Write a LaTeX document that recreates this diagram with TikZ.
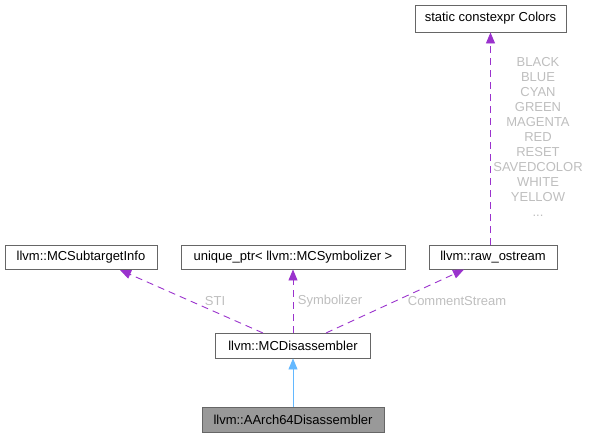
\documentclass[tikz,border=0pt]{standalone}
\usepackage{fontspec}
\setmainfont{Liberation Sans}
\usetikzlibrary{arrows.meta}
\definecolor{edgepurple}{HTML}{9A32CD}
\definecolor{edgeblue}{HTML}{63B8FF}
\definecolor{nodeborder}{HTML}{666666}
\definecolor{labelgrey}{HTML}{BEBEBE}
\tikzset{
  cls/.style={draw=nodeborder, fill=white, line width=0.9pt, minimum height=24pt, inner xsep=4pt, font=\fontsize{13}{15}\selectfont, anchor=center},
  cur/.style={cls, fill=black!40},
  usage/.style={draw=edgepurple, line width=0.9pt, dash pattern=on 7pt off 5pt, -{Triangle[length=11pt,width=9pt,fill=edgepurple]}},
  inherit/.style={draw=edgeblue, line width=0.9pt, -{Triangle[length=11pt,width=9pt,fill=edgeblue]}},
  elabel/.style={text=labelgrey, font=\fontsize{13}{15}\selectfont, inner sep=0pt},
}
\begin{document}
\begin{tikzpicture}[x=1pt,y=-1pt]
\useasboundingbox (0,0) rectangle (590,439);
\node[cls, minimum width=151pt, minimum height=27pt] (colors) at (490.5,18.5) {static constexpr Colors};
\node[cls, minimum width=152pt] (sti) at (81,257) {llvm::MCSubtargetInfo};
\node[cls, minimum width=224pt] (sym) at (293,257) {unique\_ptr< llvm::MCSymbolizer >};
\node[cls, minimum width=128pt] (raw) at (493,257) {llvm::raw\_ostream};
\node[cls, minimum width=155pt, minimum height=25pt] (mcd) at (293,345.5) {llvm::MCDisassembler};
\node[cur, minimum width=182pt, minimum height=25pt] (aarch) at (293,419.5) {llvm::AArch64Disassembler};

\coordinate (mcdA) at (263,333);
\coordinate (stiA) at (120,270);
\draw[usage] (mcdA) -- (stiA);
\draw[usage] (mcd.north) -- (sym.south);
\coordinate (mcdC) at (326,333);
\coordinate (rawC) at (464,269.5);
\draw[usage] (mcdC) -- (rawC);
\coordinate (rawT) at (490.5,245);
\draw[usage] (rawT) -- (colors.south);
\draw[inherit] (aarch.north) -- (mcd.south);

\node[elabel] (lsti) at (215,301) {STI};
\node[elabel] (lsym) at (330,301) {Symbolizer};
\node[elabel] (lcom) at (457,301) {CommentStream};
\node[elabel, align=center, font=\fontsize{13}{15}\selectfont] (lcol) at (538,137) {BLACK\\BLUE\\CYAN\\GREEN\\MAGENTA\\RED\\RESET\\SAVEDCOLOR\\WHITE\\YELLOW\\...};
\end{tikzpicture}
\end{document}
